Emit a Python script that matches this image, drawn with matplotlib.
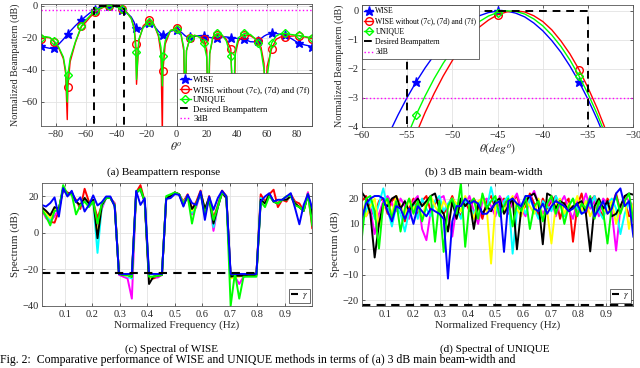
import numpy as np
import matplotlib
matplotlib.use('Agg')
import matplotlib.pyplot as plt

plt.rcParams['font.family'] = ['Liberation Serif', 'DejaVu Serif']
plt.rcParams['mathtext.fontset'] = 'stix'

# ---- (a) beampattern over the full angle range ----
theta_a = [-90, -87, -84, -81, -78, -75, -73.5, -72.4, -72, -70.5,
           -67, -63, -60, -57, -54, -51, -48, -45, -42, -39,
           -36, -33, -30, -28, -27, -26.5, -25, -22, -18, -15,
           -12, -10.3, -9.4, -9, -7.5, -4, 0, 3, 4.8, 5.7,
           6.6, 9, 12, 15, 18, 20, 21, 22, 24, 27,
           30, 33, 36, 37.7, 39, 41, 45, 49, 52, 54,
           56, 58, 58.8, 60, 63, 66, 69, 72, 76, 81,
           85, 90]
bp_wise = [-25.4, -26, -26.6, -26.5, -24, -21, -19.3, -18.0, -17.6, -16,
           -12.5, -8.9, -6.54, -4.25, -2.46, -1.15, -0.33, -0.01, -0.21, -1.03,
           -2.45, -4.49, -7.1, -10.5, -14, -14.8, -15.5, -13.5, -10.6, -12.5,
           -16, -17.5, -18.3, -18.5, -18.3, -16, -15, -16.5, -18, -18.8,
           -19.3, -19.8, -19.2, -18.7, -18.8, -19.3, -19.6, -19.8, -20.2, -20.0,
           -19.5, -19.5, -20.0, -20.2, -20.3, -20.5, -21, -22.5, -22.6, -22,
           -20.5, -19, -18.6, -18, -17.3, -17.3, -18, -18.5, -20.5, -23.4,
           -24.5, -25.5]
bp_wo = [-21.0, -19.8, -20.0, -22.7, -26.5, -33, -42, -71, -50.7, -35,
         -23, -13.0, -10.2, -6.89, -4.25, -2.25, -0.88, -0.14, -0.04, -0.66,
         -2.03, -4.15, -8.0, -14, -24, -49, -22, -12.5, -9.2, -11.5,
         -19, -30, -80, -40.6, -24, -15.5, -14.0, -18, -28, -80,
         -28, -19.9, -18.5, -19.5, -20.7, -28, -80, -30, -20.5, -18.0,
         -18.5, -21, -27, -80, -30, -22, -18.4, -18.8, -20.5, -22.3,
         -26, -36, -80, -38, -27, -21, -19.5, -19.6, -19, -18.7,
         -19.5, -20.7]
bp_unique = [-19.9, -19.3, -19.8, -22.1, -26, -32, -40, -60, -43, -33,
             -22.5, -12.6, -9.0, -6.01, -3.60, -1.81, -0.63, -0.06, -0.11, -0.84,
             -2.25, -4.34, -8.0, -15, -28.6, -46, -21, -13.5, -10.0, -12,
             -18, -26, -50, -31.2, -22, -15.5, -14.7, -18, -26, -60,
             -28, -20.0, -18.5, -19.5, -23, -32, -60, -30, -19.5, -17.3,
             -18, -22, -31.7, -60, -28, -20, -17.3, -18, -20.5, -23.4,
             -28, -40, -48, -45, -23.4, -19, -17.5, -17.3, -18, -18.6,
             -19.3, -20]
marks_a = [-90, -81, -72, -63, -54, -45, -36, -27, -18, -9, 0,
           9, 18, 27, 36, 45, 54, 63, 72, 81, 90]

# ---- (b) zoom on the main lobe ----
theta_b = [-58, -57, -56, -55, -54, -53, -52, -51, -50, -49, -48, -47, -46,
           -45, -44, -43, -42, -41, -40, -39, -38, -37, -36, -35, -34, -33, -32]
ml_wise = [-4.96, -4.25, -3.6, -3.0, -2.46, -1.97, -1.53, -1.15, -0.82, -0.55,
           -0.33, -0.17, -0.06, -0.01, -0.01, -0.08, -0.21, -0.42, -0.69, -1.03,
           -1.43, -1.91, -2.45, -3.06, -3.74, -4.49, -5.3]
ml_wo = [-7.91, -6.89, -5.94, -5.06, -4.25, -3.51, -2.85, -2.25, -1.72, -1.26,
         -0.88, -0.56, -0.32, -0.14, -0.04, 0.0, -0.04, -0.17, -0.37, -0.66,
         -1.04, -1.49, -2.03, -2.66, -3.36, -4.15, -5.02]
ml_unique = [-6.94, -6.01, -5.14, -4.34, -3.60, -2.94, -2.34, -1.81, -1.35, -0.95,
             -0.63, -0.37, -0.18, -0.06, 0.0, -0.02, -0.11, -0.28, -0.52, -0.84,
             -1.23, -1.70, -2.25, -2.87, -3.56, -4.34, -5.18]
marks_b = [-54, -45, -36]

desired_edges = [-55, -35]
level_3db = -3

# ---- (c), (d) spectra, 64 normalized frequency bins ----
freq = np.arange(1, 65) / 64
gamma = -22

wise_r = [11, 10, 6, 5.5, 12, 24, 22, 21, 18, 13, 24, 17, 17, 8, 15, 19, 19, 16, -22.5, -23,
          -23.5, -23, 22, 26, 17, -24, -25, -24, -23, 19, 20, 22, 21, 17, 21, 13, 17, 23, 12, 20,
          8, 15, 23, 20, -24, -23, -23, -23, -23, -23, -23, 21, 17, 21, 23.5, 14, 18, 17, 21, 17,
          16, 12, 22, 2.5]
wise_m = [13, 8, 6, 9, 13, 24, 21, 21, 17, 15, 18, 15, 17, 2, 13, 19, 19, 16, -23, -24,
          -25, -36, 22, 23, 17, -25, -24, -24.5, -23, 19, 20, 22, 21, 16, 20, 10, 14, 22, 10, 19,
          1, 14, 22, 19, -23, -24, -28, -24, -23.5, -23, -23, 19, 16, 21, 17, 16, 18, 18, 20, 16,
          14, 12, 22, 7]
wise_c = [14, 10, 7, 12, 13, 24, 21, 21, 17, 15, 19, 15, 17, -11, 14, 19, 19, 15, -22.5, -23,
          -24, -25, 22, 23, 17, -24, -24, -23, -23, 19, 20, 22, 21, 16, 20, 11, 15, 22, 12, 19,
          3, 14, 22, 19, -23, -23.5, -23.5, -24, -23, -23, -23, 19, 16, 21, 17, 16, 18, 18, 20, 16,
          14, 12, 21, 8]
wise_y = [13, 11, 8, 13, 13, 24, 21, 21, 17, 15, 19, 16, 18, -1, 15, 19, 19, 15, -22.5, -23,
          -23.5, -24, 22, 24, 17, -25, -24, -23.5, -23, 19, 20, 22, 21, 16, 20, 12, 16, 22, 12, 19,
          6, 14, 22, 19, -25, -24, -24, -23.5, -23, -23, -23, 18, 16, 21, 17, 16, 18, 18, 20, 16,
          14, 12, 21, 10]
wise_k = [14, 12, 9.5, 14, 13, 24, 21, 22, 17, 15, 19, 16, 18, -3, 15, 19, 19, 15, -22.5, -23,
          -23, -24, 22, 24, 17, -28, -24, -23.5, -23, 19, 20, 22, 21, 15, 20, 13, 16, 22, 13, 19,
          5, 14, 22, 19, -24, -23.5, -23.5, -23.5, -23, -23, -23, 18, 16, 21, 17, 16, 18, 18, 20, 16,
          14, 12, 21, 10]
wise_g = [13, 9, 4, 12, 12, 26, 21, 21, 10, 15, 17, 14, 17, 5, 16, 19, 19, 15, -22.5, -23,
          -23, -24, 22, 24, 17, -24, -24, -23.5, -23, 20, 21, 22, 21, 16, 20, 5, 16, 21, 10, 19,
          7, 14, 22, 20, -40, -22, -36, -24, -24, -24, -24, 17, 14, 20, 17, 16, 18, 20, 20, 15,
          14, 12, 21, 4]
wise_b = [15.2, 14.3, 16.2, 19.3, 8.8, 24.4, 19.8, 22.9, 16.7, 19.3, 11.6, 15.2, 20.4, 14.9, 16.7, 19.8, 19.8, 14.3, -22.5, -22.5,
          -22.5, -22.5, 22.9, 15.2, 18.9, -22.5, -22.5, -22.5, -22.5, 18.5, 18.9, 21.1, 20.7, 14.3, 20.7, 16.2, 15.2, 22.6, 7.0, 19.8,
          12.5, 18.9, 22.9, 19.8, -22.5, -22.5, -22.5, -22.5, -22.5, -22.5, -22.5, 17.1, 19.8, 21.6, 17.1, 18.0, 18.0, 19.8, 21.6, 13.4,
          4.6, 15.2, 21.1, 13.4]

uni_r = [19, 21, 16, 13, 19, 20, 14, 19, 21, 17, 11, 16, 20, 13, 19, 21, 15, 18, 20, 14,
         17, 21, 16, 13, 19, 15, 20, 17, 12, 19, 21, 16, 18, 20, 14, 19, 21, 15, 17, 22,
         18, 13, 20, 16, 19, 21, 12, 18, 20, 3, 17, 22, 14, 19, 21, 16, 13, 20, 17, 22,
         15, 19, 13, 14]
uni_m = [17, 13, 16, 6, 14, 19, 21, 18, 15, 20, 17, 12, 19, 21, 8, 3.6, 15, 19, 20, 21,
         14, 5, 17, 20, 18, 21, 15, 10, 19, 20, 17, 13, 21, 18, 15, 19, 22, 16, 13, 20,
         23, 18, 14, 17, 20, 13, 18, 21, 16, 12, 19, 17, 22, 16, 19, 13, 20, 18, 15, -0.5,
         16, 21, 19, 17]
uni_c = [10, 15, 20, 12, 18, 24, 16, 9, 17, 14, 7, 15, 18, 12, 20, 16, 13, 19, 21, 15,
         18, 20, 16, 12, 19, 17, 14, 18, 20, 16, 24.5, 17, 13, 19, 21, -1.7, 15, 18, 14, 20,
         16, 12, 19, 17, 15, 21, 18, 13, 17, 20, 16, 14, 19, 17, 21, 15, 12, 18, 20, 16,
         6, 14, 19, 16]
uni_y = [18, 13, 17, 20, 9, 16, 19, 14, 21, 17, 13, 20, 16, 18, 12, 19, 21, 17, 14, 19,
         16, 20, 18, 15, 21, 17, 12, 19, 20, 16, -5.6, 17, 20, 15, 18, 21, 16, 13, 19, 17,
         14, 20, 12, 15, 2.3, 17, 20, 14, 18, 16, 21, 15, 19, 13, 17, 20, 16, 14, 19, 10,
         17, 20, 8, 18]
uni_k = [22.5, 20, 14, -3.2, 10, 18, 17, 20, 21, 16, 19, 15, 18, 20, 17, 19, 21, 22, 16, 14,
         7, 19, 12, 20, 17, 19, 8, 18, 14, 17, 15, 19, 20, 14, 17, 20, 0, 16, 19, 21,
         22, 18, 2, 22, 21, 16, 19, 18, 15, 17, 18, 19, 14, -0.8, 17, 20, 16, 19, 13, 14,
         17, 21, 22, 21.5]
uni_g = [4, 20, 21, 15, 0.3, 18, 20, 12, 19, 7, 16, 20, 14, 19, 11, 17, 21, 3, 19, -1,
         17, 20, 14, 26, 1, 18, 20, 12, 22, 16, 19, 21, 13, 17, 20, 9, 18, 15, 21, 8,
         17, 19, 11, 18, 21, 14, 19, 10, 17, 20, 13, 18, 16, 21, 12, 19, 15, 2.3, 17, 21,
         14, 19, 22, 11]
uni_b = [12, 18, 20, 21, 21, 20, 15, 11, 17, 16, 12, 16, 10, 17, 15, 13, 16, 15, 14, 12,
         -11.5, 11, 17, 17, 20, 18, 19, 18, 14, 14, 16, 18, 19, -1, 19, 20, 18, 17, 21, 21,
         16, 15, 18, 14, 17, 19, 18, 17, 15, 16, 18, 14, 15, 20, 13, 16, 19, 14, 16, 22,
         24, 17, 19, 5]

spec_colors = ['#ff0000', '#ff00ff', '#00ffff', '#ffff00', '#000000', '#00ff00', '#0000ff']

TXT = '#262626'
GRID = '#e3e3e3'


def style(ax):
    ax.grid(True, color=GRID, lw=0.6)
    ax.set_axisbelow(True)
    for s in ax.spines.values():
        s.set_color('#555555')
        s.set_linewidth(0.6)
    ax.tick_params(direction='in', length=2.5, width=0.5, labelsize=7.5,
                   colors=TXT, top=True, right=True, pad=2)
    ax.tick_params(axis='x', pad=3)


fig = plt.figure(figsize=(6.4, 3.68), dpi=100)

# (a)
ax = fig.add_axes([0.0636, 0.6576, 0.4244, 0.3315])
idx_a = [i for i, t in enumerate(theta_a) if t in marks_a]
ax.plot(theta_a, bp_wise, color='#0000ff', lw=1.0, marker='*', ms=6.5, markevery=idx_a, label='WISE')
ax.plot(theta_a, bp_wo, color='#ff0000', lw=1.0, marker='o', ms=5.5, mfc='none', mew=1.0,
        markevery=idx_a, label='WISE without (7c), (7d) and (7f)')
ax.plot(theta_a, bp_unique, color='#00ff00', lw=1.0, marker='D', ms=4.3, mfc='none', mew=1.0,
        markevery=idx_a, label='UNIQUE')
lo, hi = desired_edges
ax.plot([-90, lo, lo, hi, hi, 90], [-100, -100, 0, 0, -100, -100], color='k', lw=1.4,
        dashes=(4, 3), label='Desired Beampattern')
ax.plot([-90, 90], [level_3db, level_3db], color='#ff00ff', lw=1.0, ls=':', label='3dB')
ax.set_xlim(-90, 90)
ax.set_ylim(-75, 1)
ax.set_xticks(range(-80, 81, 20))
ax.set_yticks([-60, -40, -20, 0])
style(ax)
ax.set_xlabel(r'$\theta^o$', fontsize=8.5, color=TXT, labelpad=1)
ax.set_ylabel('Normalized Beampattern (dB)', fontsize=7.2, color=TXT, labelpad=1)
leg = ax.legend(loc='lower right', fontsize=6.3, borderaxespad=0, fancybox=False,
                edgecolor='#333333', framealpha=1, handlelength=1.2, handletextpad=0.3,
                labelspacing=0.2, borderpad=0.3)
leg.get_frame().set_linewidth(0.5)

# (b)
ax = fig.add_axes([0.5652, 0.6557, 0.4244, 0.3307])
idx_b = [i for i, t in enumerate(theta_b) if t in marks_b]
ax.plot(theta_b, ml_wise, color='#0000ff', lw=1.0, marker='*', ms=6.5, markevery=idx_b, label='WISE')
ax.plot(theta_b, ml_wo, color='#ff0000', lw=1.0, marker='o', ms=5.5, mfc='none', mew=1.0,
        markevery=idx_b, label='WISE without (7c), (7d) and (7f)')
ax.plot(theta_b, ml_unique, color='#00ff00', lw=1.0, marker='D', ms=4.3, mfc='none', mew=1.0,
        markevery=idx_b, label='UNIQUE')
ax.plot([-60, lo, lo, hi, hi, -30], [-100, -100, 0, 0, -100, -100], color='k', lw=1.4,
        dashes=(4, 3), label='Desired Beampattern')
ax.plot([-60, -30], [level_3db, level_3db], color='#ff00ff', lw=1.0, ls=':', label='3dB')
ax.set_xlim(-60, -30)
ax.set_ylim(-4, 0.2)
ax.set_xticks(range(-60, -29, 5))
ax.set_yticks([-4, -3, -2, -1, 0])
style(ax)
ax.set_xlabel(r'$\theta(deg^o)$', fontsize=8.5, color=TXT, labelpad=1)
ax.set_ylabel('Normalized Beampattern (dB)', fontsize=7.2, color=TXT, labelpad=3)
leg = ax.legend(loc='upper left', fontsize=5.5, borderaxespad=0, fancybox=False,
                edgecolor='#333333', framealpha=1, handlelength=1.2, handletextpad=0.3,
                labelspacing=0.3, borderpad=0.3)
leg.get_frame().set_linewidth(0.5)

# (c), (d)
wise_series = [wise_r, wise_m, wise_c, wise_y, wise_k, wise_g, wise_b]
uni_series = [uni_r, uni_m, uni_c, uni_y, uni_k, uni_g, uni_b]
for pos, series, ylim, yt in [([0.0651, 0.1685, 0.4228, 0.3334], wise_series, (-40, 27), [-40, -20, 0, 20]),
                              ([0.5652, 0.1685, 0.4244, 0.3334], uni_series, (-22.3, 26), [-20, -10, 0, 10, 20])]:
    ax = fig.add_axes(pos)
    for vals, c in zip(series, spec_colors):
        ax.plot(freq, vals, color=c, lw=1.4)
    ax.plot([freq[0], freq[-1]], [gamma, gamma], color='k', lw=1.5, dashes=(4, 3),
            label=r'$\gamma$')
    ax.set_xlim(freq[0], 1.0)
    ax.set_ylim(*ylim)
    ax.set_xticks([0.1, 0.2, 0.3, 0.4, 0.5, 0.6, 0.7, 0.8, 0.9])
    ax.set_yticks(yt)
    style(ax)
    ax.set_xlabel('Normalized Frequency (Hz)', fontsize=8, color=TXT, labelpad=1)
    ax.set_ylabel('Spectrum (dB)', fontsize=8, color=TXT, labelpad=2)
    leg = ax.legend(loc='lower right', fontsize=6.5, borderaxespad=0.3, fancybox=False,
                    edgecolor='#333333', framealpha=1, handlelength=0.8, handletextpad=0.4,
                    borderpad=0.2)
    leg.get_frame().set_linewidth(0.5)

# captions
fig.text(163.5 / 640, 1 - 172 / 368, '(a) Beampattern response', ha='center', va='center', fontsize=8)
fig.text(484 / 640, 1 - 172 / 368, '(b) 3 dB main beam-width', ha='center', va='center', fontsize=8)
fig.text(171.7 / 640, 1 - 349 / 368, '(c) Spectral of WISE', ha='center', va='center', fontsize=8)
fig.text(495 / 640, 1 - 349 / 368, '(d) Spectral of UNIQUE', ha='center', va='center', fontsize=8)
fig.text(0.0, 1.5 / 368,
         'Fig. 2:  Comparative performance of WISE and UNIQUE methods in terms of (a) 3 dB main beam-width and',
         ha='left', va='bottom', fontsize=8.5)

fig.savefig('out.png', dpi=100)
